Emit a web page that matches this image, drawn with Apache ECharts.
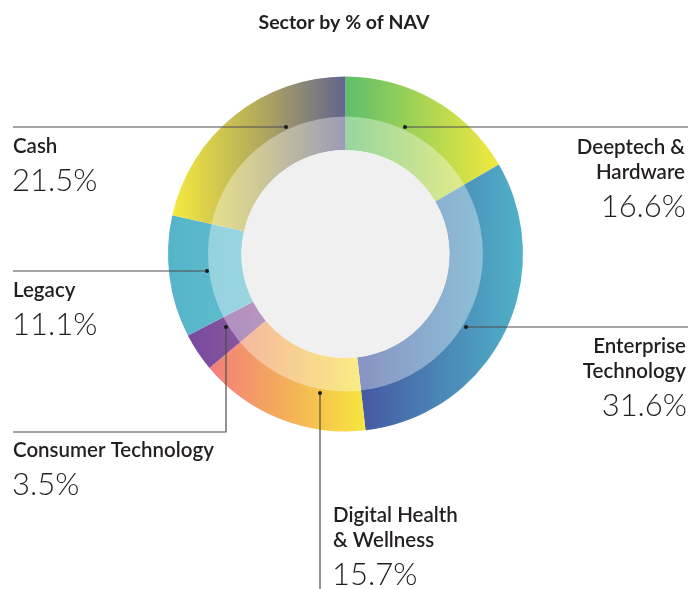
<!DOCTYPE html>
<html>
<head>
<meta charset="utf-8">
<script src="https://cdn.jsdelivr.net/npm/echarts@6/dist/echarts.min.js"></script>
<style>
  html, body { margin: 0; padding: 0; background: #fff; }
  #chart { width: 688px; height: 589px; }
</style>
</head>
<body>
<div id="chart"></div>
<script>
// sectors, clockwise from 12 o'clock
const categories = [
  'Deeptech &\nHardware',
  'Enterprise\nTechnology',
  'Digital Health\n& Wellness',
  'Consumer Technology',
  'Legacy',
  'Cash'
]
const navPercent = [16.6, 31.6, 15.7, 3.5, 11.1, 21.5]

// gradient stops for each sector (left -> right)
const sectorColors = [
  ['#5dbf6a', '#f3e93d'],
  ['#4656a2', '#4a86b6', '#50b2c8'],
  ['#f27e7c', '#f4b058', '#f7e63e'],
  ['#774aa0', '#8e5a98'],
  ['#56b4ca', '#62bece'],
  ['#f4ea3e', '#b4aa5c', '#62648e']
]

// leader line + text placement for each label
const labelLayout = [
  { path: [[405, 127], [688, 127]], x: 685, align: 'right', baseline: 154 },
  { path: [[466, 327], [688, 327]], x: 686, align: 'right', baseline: 353 },
  { path: [[320, 393], [320, 589]], x: 333, align: 'left', baseline: 522 },
  { path: [[226, 327], [226, 432], [13, 432]], x: 13, align: 'left', baseline: 457 },
  { path: [[207, 271], [13, 271]], x: 13, align: 'left', baseline: 297 },
  { path: [[286, 127], [13, 127]], x: 13, align: 'left', baseline: 153 }
]

const FONT = 'Lato, "Noto Sans", sans-serif'
const TEXT_COLOR = '#231f20'
const NAME_SIZE = 20.5
const VALUE_SIZE = 31
const LINE_GAP = 25.5
const VALUE_GAP = 38

const gradient = (stops) => ({
  type: 'linear',
  x: 0, y: 0, x2: 1, y2: 0,
  colorStops: stops.map((c, i) => ({ offset: i / (stops.length - 1), color: c }))
})

const ringData = categories.map((name, i) => ({
  name: name,
  value: navPercent[i],
  itemStyle: { color: gradient(sectorColors[i]) }
}))

// texts and leader lines
const graphics = []
labelLayout.forEach((lay, i) => {
  const dot = lay.path[0]
  graphics.push({
    type: 'polyline',
    z: 100,
    shape: { points: lay.path },
    style: { stroke: '#4d4d4d', lineWidth: 1.2, fill: null }
  })
  graphics.push({
    type: 'circle',
    z: 101,
    shape: { cx: dot[0], cy: dot[1], r: 2 },
    style: { fill: '#1a1a1a' }
  })
  const lines = categories[i].split('\n')
  lines.forEach((line, j) => {
    graphics.push({
      type: 'text',
      z: 100,
      x: lay.x,
      y: lay.baseline + j * LINE_GAP - NAME_SIZE * 0.33,
      style: {
        text: line,
        font: '600 ' + NAME_SIZE + 'px ' + FONT,
        fill: TEXT_COLOR,
        textAlign: lay.align,
        textVerticalAlign: 'middle'
      }
    })
  })
  const valueBaseline = lay.baseline + (lines.length - 1) * LINE_GAP + VALUE_GAP
  graphics.push({
    type: 'text',
    z: 100,
    x: lay.x + (lay.align === 'right' ? 1 : -1),
    y: valueBaseline - VALUE_SIZE * 0.33,
    style: {
      text: navPercent[i].toFixed(1) + '%',
      font: '300 ' + VALUE_SIZE + 'px ' + FONT,
      fill: TEXT_COLOR,
      textAlign: lay.align,
      textVerticalAlign: 'middle'
    }
  })
})

const chart = echarts.init(document.getElementById('chart'))

chart.setOption({
  animation: false,
  title: {
    text: 'Sector by % of NAV',
    left: 'center',
    top: 8,
    textStyle: {
      fontFamily: FONT,
      fontSize: 19.5,
      fontWeight: 700,
      color: TEXT_COLOR
    }
  },
  series: [
    {
      // full ring, one gradient per sector
      type: 'pie',
      center: [345.5, 254],
      radius: [104, 177.5],
      startAngle: 90,
      silent: true,
      label: { show: false },
      labelLine: { show: false },
      itemStyle: { borderWidth: 0 },
      data: ringData
    },
    {
      // white veil that lightens the inner band
      type: 'pie',
      center: [345.5, 254],
      radius: [104, 137.5],
      silent: true,
      label: { show: false },
      labelLine: { show: false },
      itemStyle: { color: '#ffffff', opacity: 0.36, borderWidth: 0 },
      data: [{ value: 1, name: '' }]
    },
    {
      // grey centre
      type: 'pie',
      center: [345.5, 254],
      radius: [0, 104],
      silent: true,
      label: { show: false },
      labelLine: { show: false },
      itemStyle: { color: '#f0f0f0' },
      data: [{ value: 1, name: '' }]
    }
  ],
  graphic: graphics
})
</script>
</body>
</html>
